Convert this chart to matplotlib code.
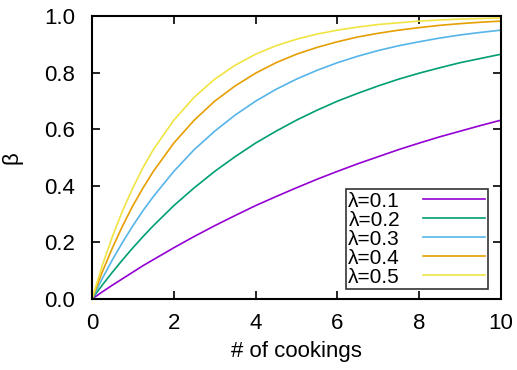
import matplotlib
matplotlib.use("Agg")
from matplotlib import pyplot as plt

plt.rcParams["font.family"] = ["Liberation Sans", "DejaVu Sans"]

# values
cookings = [0, 0.25, 0.5, 0.75, 1, 1.25, 1.5, 2, 2.5, 3, 3.5, 4, 4.5, 5,
            5.5, 6, 6.5, 7, 7.5, 8, 8.5, 9, 9.5, 10]
beta_01 = [0, 0.025, 0.049, 0.072, 0.095, 0.118, 0.139, 0.181, 0.221, 0.259, 0.295, 0.330, 0.362, 0.393,
           0.423, 0.451, 0.478, 0.503, 0.528, 0.551, 0.573, 0.593, 0.613, 0.632]
beta_02 = [0, 0.049, 0.095, 0.139, 0.181, 0.221, 0.259, 0.330, 0.393, 0.451, 0.503, 0.551, 0.593, 0.632,
           0.667, 0.699, 0.727, 0.753, 0.777, 0.798, 0.817, 0.835, 0.850, 0.865]
beta_03 = [0, 0.072, 0.139, 0.201, 0.259, 0.313, 0.362, 0.451, 0.528, 0.593, 0.650, 0.699, 0.741, 0.777,
           0.808, 0.835, 0.858, 0.878, 0.895, 0.909, 0.922, 0.933, 0.942, 0.950]
beta_04 = [0, 0.095, 0.181, 0.259, 0.330, 0.393, 0.451, 0.551, 0.632, 0.699, 0.753, 0.798, 0.835, 0.865,
           0.889, 0.909, 0.926, 0.939, 0.950, 0.959, 0.967, 0.973, 0.978, 0.982]
beta_05 = [0, 0.118, 0.221, 0.313, 0.393, 0.465, 0.528, 0.632, 0.713, 0.777, 0.826, 0.865, 0.895, 0.918,
           0.936, 0.950, 0.961, 0.970, 0.976, 0.982, 0.986, 0.989, 0.991, 0.993]
labels = ["λ=0.1", "λ=0.2", "λ=0.3", "λ=0.4", "λ=0.5"]
colors = ["#9400d3", "#009e73", "#56b4e9", "#e69f00", "#f0e442"]

fig = plt.figure(figsize=(5.17, 3.70), dpi=100)
ax = fig.add_axes([92 / 517, 1 - 299 / 370, 409 / 517, 283 / 370])

for ys, lab, c in zip([beta_01, beta_02, beta_03, beta_04, beta_05], labels, colors):
    ax.plot(cookings, ys, color=c, lw=1.2, label=lab)

ax.set_xlim(0, 10)
ax.set_ylim(0, 1)
ax.set_xticks([0, 2, 4, 6, 8, 10])
ax.set_yticks([0, 0.2, 0.4, 0.6, 0.8, 1.0])
ax.set_yticklabels(["0.0", "0.2", "0.4", "0.6", "0.8", "1.0"])
ax.tick_params(direction="in", length=6, width=1.2, top=True, right=True,
               labelsize=16, colors="black")
ax.tick_params(axis="x", pad=10)
ax.tick_params(axis="y", pad=12)
for s in ax.spines.values():
    s.set_linewidth(1.5)

ax.set_xlabel("# of cookings", fontsize=16, labelpad=5)
ax.set_ylabel("β", fontsize=16, labelpad=16)

leg = ax.legend(loc="lower right", bbox_to_anchor=(0.968, 0.035), markerfirst=False,
                fontsize=15, frameon=True, fancybox=False, handlelength=3.0,
                handletextpad=1.1, labelspacing=0.0, borderpad=0.12,
                borderaxespad=0)
leg.get_frame().set_edgecolor("black")
leg.get_frame().set_linewidth(1.2)

fig.savefig("out.png", dpi=100)
